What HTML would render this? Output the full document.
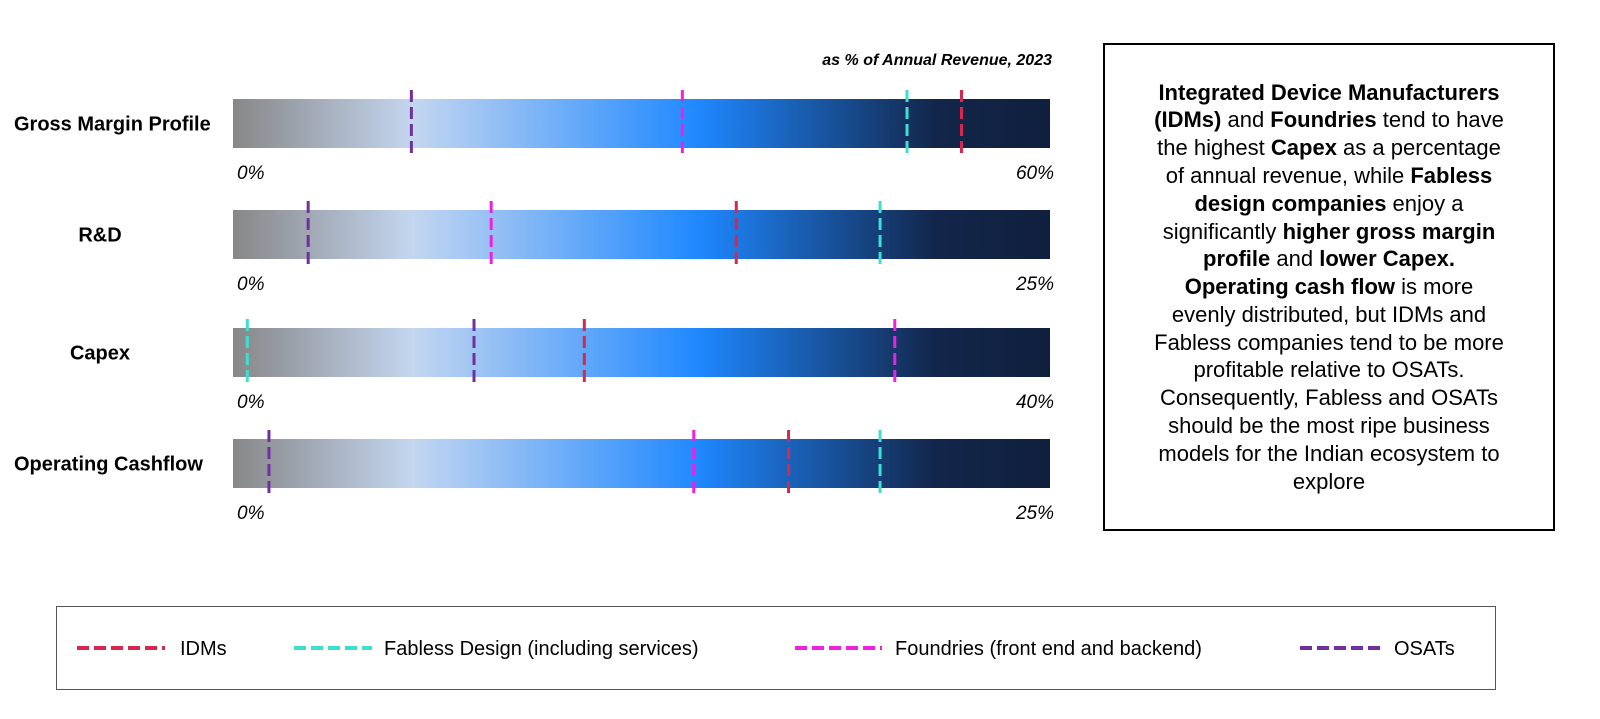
<!DOCTYPE html>
<html><head><meta charset="utf-8"><style>
body{margin:0;width:1600px;height:719px;background:#fff;font-family:"Liberation Sans",sans-serif;overflow:hidden;position:relative}
.box{position:absolute;left:1103px;top:43px;width:452px;height:488px;border:2px solid #000;box-sizing:border-box;display:flex;align-items:center;justify-content:center;text-align:center;font-size:22px;line-height:27.8px;color:#000;padding:0 4px;white-space:nowrap}
.legend{position:absolute;left:56px;top:606px;width:1440px;height:84px;border:1px solid #555;box-sizing:border-box}
</style></head><body>
<svg id="chart" width="1100" height="600" style="position:absolute;left:0;top:0">
<defs><linearGradient id="g" x1="0" x2="1" y1="0" y2="0">
<stop offset="0" stop-color="#878787"/><stop offset="0.22" stop-color="#c4d6f0"/><stop offset="0.57" stop-color="#1f88ff"/><stop offset="0.86" stop-color="#13264a"/><stop offset="1" stop-color="#0f1f3d"/></linearGradient></defs>
<text x="1052" y="65" text-anchor="end" font-size="16" font-weight="bold" font-style="italic">as % of Annual Revenue, 2023</text>
</svg>
<div class="box"><div><b>Integrated Device Manufacturers</b><br><b>(IDMs)</b> and <b>Foundries</b> tend to have<br>the highest <b>Capex</b> as a percentage<br>of annual revenue, while <b>Fabless</b><br><b>design companies</b> enjoy a<br>significantly <b>higher gross margin</b><br><b>profile</b> and <b>lower Capex.</b><br><b>Operating cash flow</b> is more<br>evenly distributed, but IDMs and<br>Fabless companies tend to be more<br>profitable relative to OSATs.<br>Consequently, Fabless and OSATs<br>should be the most ripe business<br>models for the Indian ecosystem to<br>explore</div></div>
<div class="legend">
<svg width="1440" height="84">
<g><line x1="20" x2="108" y1="41" y2="41" stroke="#d6284f" stroke-width="4" stroke-dasharray="12,5"/><text x="123" y="48" font-size="20">IDMs</text></g>
<g><line x1="237" x2="315" y1="41" y2="41" stroke="#3de0d0" stroke-width="4" stroke-dasharray="12,5"/><text x="327" y="48" font-size="20">Fabless Design (including services)</text></g>
<g><line x1="738" x2="825" y1="41" y2="41" stroke="#f020e0" stroke-width="4" stroke-dasharray="12,5"/><text x="838" y="48" font-size="20">Foundries (front end and backend)</text></g>
<g><line x1="1243" x2="1325" y1="41" y2="41" stroke="#7030a0" stroke-width="4" stroke-dasharray="12,5"/><text x="1337" y="48" font-size="20">OSATs</text></g>
</svg></div>
<script>
const metrics=["Gross Margin Profile","R&D","Capex","Operating Cashflow"];
const maxVals=[60,25,40,25];
const idms=[53.5,15.4,17.2,17.0];
const fabless=[49.5,19.8,0.7,19.8];
const foundries=[33.0,7.9,32.4,14.1];
const osats=[13.1,2.3,11.8,1.1];
const series=[["idms",idms,"#d6284f"],["fabless",fabless,"#3de0d0"],["foundries",foundries,"#f020e0"],["osats",osats,"#7030a0"]];
const rowTops=[99,210,328,439];
const x0=233,x1=1050,bh=49;
const svg=document.getElementById('chart');const NS="http://www.w3.org/2000/svg";
function mk(t,a){const e=document.createElementNS(NS,t);for(const k in a)e.setAttribute(k,a[k]);svg.appendChild(e);return e;}
function xs(v,m){return x0+(v/m)*(x1-x0);}
metrics.forEach((m,i)=>{
 const y=rowTops[i];
 const r=mk('rect',{x:x0,y:y,width:x1-x0,height:bh,fill:'url(#g)'});
 
 
 const centered=(m==="R&D"||m==="Capex");
 const lab=mk('text',{x:centered?100:14,y:y+bh/2+7,'font-size':20,'font-weight':'bold','text-anchor':centered?'middle':'start'});
 lab.textContent=m;
 
 
 const t0=mk('text',{x:237,y:y+bh+31,'font-size':19,'font-style':'italic'});t0.textContent='0%';
 
 
 const t1=mk('text',{x:1054,y:y+bh+31,'font-size':19,'font-style':'italic','text-anchor':'end'});t1.textContent=maxVals[i]+'%';
 
 
 series.forEach(s=>{
  const x=xs(s[1][i],maxVals[i]);
  const l=mk('line',{x1:x,x2:x,y1:y-9,y2:y+bh+8,stroke:s[2],'stroke-width':3,'stroke-dasharray':'12,5'});
  
  
 });
});
</script>
</body></html>
